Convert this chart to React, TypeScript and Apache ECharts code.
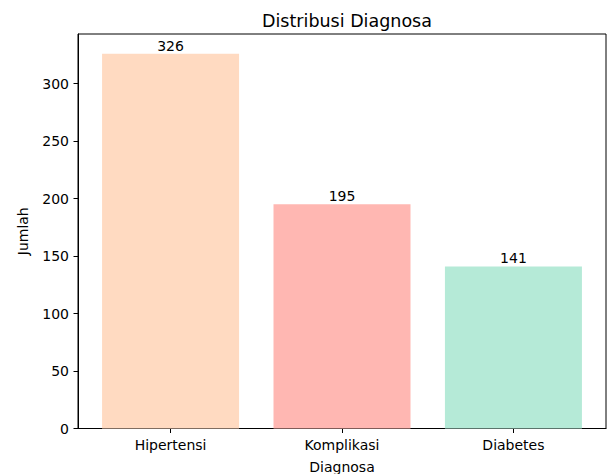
import React, { useEffect, useRef } from "react";
import * as echarts from "echarts";

const categories = ["Hipertensi", "Komplikasi", "Diabetes"];
const values = [326, 195, 141];
const colors = ["#FFDAC1", "#FFB7B2", "#B5EAD7"];
const yTicks = [0, 50, 100, 150, 200, 250, 300];

export default function App() {
  const ref = useRef<HTMLDivElement>(null);
  useEffect(() => {
    if (!ref.current) return;
    const chart = echarts.init(ref.current, null, { renderer: "svg" });
    const font = "DejaVu Sans";
    chart.setOption({
      animation: false,
      backgroundColor: "#ffffff",
      textStyle: { fontFamily: font },
      title: {
        text: "Distribusi Diagnosa",
        left: 342,
        top: 7,
        textAlign: "center",
        textStyle: { fontFamily: font, fontSize: 17.5, fontWeight: "normal", color: "#000" },
      },
      grid: {
        left: 78,
        top: 34,
        width: 528,
        height: 394.5,
        outerBoundsMode: "none",
        containLabel: false,
        show: true,
        borderColor: "#000",
        borderWidth: 1,
        backgroundColor: "transparent",
      },
      xAxis: {
        type: "value",
        min: -0.54,
        max: 2.54,
        splitLine: { show: false },
        axisLine: { show: true, onZero: false, lineStyle: { color: "#000", width: 1 } },
        axisTick: { show: true, customValues: [0, 1, 2], length: 4.5, lineStyle: { color: "#000" } },
        axisLabel: {
          customValues: [0, 1, 2],
          formatter: (v: number) => categories[Math.round(v)] ?? "",
          margin: 9,
          fontFamily: font,
          fontSize: 14,
          color: "#000",
        },
        name: "Diagnosa",
        nameLocation: "middle",
        nameGap: 31,
        nameTextStyle: { fontFamily: font, fontSize: 14, color: "#000", verticalAlign: "top" },
      },
      yAxis: {
        type: "value",
        min: 0,
        max: 343.2,
        splitLine: { show: false },
        axisLine: { show: true, onZero: false, lineStyle: { color: "#000", width: 1 } },
        axisTick: { show: true, customValues: yTicks, length: 4.5, lineStyle: { color: "#000" } },
        axisLabel: {
          customValues: yTicks,
          margin: 9,
          fontFamily: font,
          fontSize: 14,
          color: "#000",
        },
        name: "Jumlah",
        nameLocation: "middle",
        nameGap: 48,
        nameTextStyle: { fontFamily: font, fontSize: 14, color: "#000" },
      },
      series: [
        {
          type: "bar",
          barWidth: 137,
          data: values.map((v, i) => ({ value: [i, v], itemStyle: { color: colors[i] } })),
          label: {
            show: true,
            position: "top",
            distance: 1,
            formatter: (p: any) => String(p.value[1]),
            fontFamily: font,
            fontSize: 14,
            color: "#000",
          },
        },
      ],
    });
    return () => chart.dispose();
  }, []);
  return (
    <div
      ref={ref}
      style={{ position: "fixed", left: 0, top: 0, width: 608, height: 474 }}
    />
  );
}
